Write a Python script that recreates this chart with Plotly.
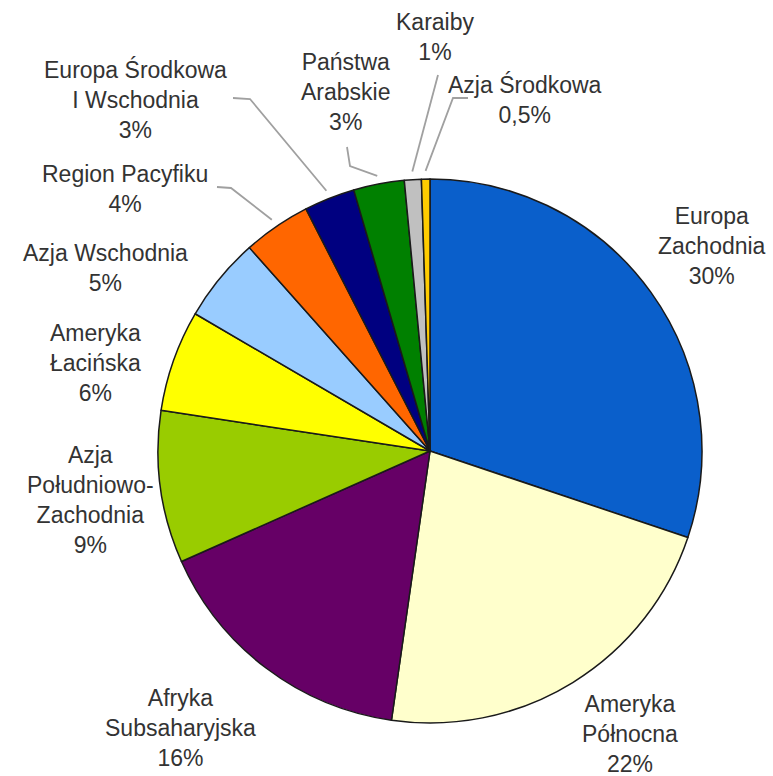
import math
import plotly.graph_objects as go

# ---- data ----
regions = ["Europa Zachodnia", "Ameryka Północna", "Afryka Subsaharyjska",
           "Azja Południowo-Zachodnia", "Ameryka Łacińska", "Azja Wschodnia",
           "Region Pacyfiku", "Europa Środkowa i Wschodnia", "Państwa Arabskie",
           "Karaiby", "Azja Środkowa"]
shares = [30, 22, 16, 9, 6, 5, 4, 3, 3, 1, 0.5]
label_texts = ["Europa<br>Zachodnia<br>30%", "Ameryka<br>Północna<br>22%",
               "Afryka<br>Subsaharyjska<br>16%",
               "Azja<br>Południowo-<br>Zachodnia<br>9%", "Ameryka<br>Łacińska<br>6%",
               "Azja Wschodnia<br>5%", "Region Pacyfiku<br>4%",
               "Europa Środkowa<br>I Wschodnia<br>3%", "Państwa<br>Arabskie<br>3%",
               "Karaiby<br>1%", "Azja Środkowa<br>0,5%"]
colors = ["#0A5FCB", "#FFFFCC", "#660066", "#99CC00", "#FFFF00", "#99CCFF",
          "#FF6600", "#000080", "#008000", "#C0C0C0", "#FFCC00"]

# ---- layout geometry (pixels) ----
W, H = 773, 776
cx, cy, R = 430, 451, 272

# label block centres (pixels)
label_pos = [(712, 246), (630, 734), (180, 728), (90, 500), (95, 363),
             (105, 268), (125, 189), (135, 100), (345, 92), (435, 37), (525, 99)]
# leader line starts (pixels) for small slices: index -> list of points
leader_start = {
    6: [(217, 187), (231, 188)],
    7: [(233, 98), (250, 99)],
    8: [(347, 147), (350, 166)],
    9: [(438, 75)],
    10: [(468, 98), (453, 98)],
}

def px(x):
    return x / W

def py(y):
    return 1 - y / H

fig = go.Figure(go.Pie(
    labels=regions, values=shares, sort=False, direction="clockwise",
    rotation=0, textinfo="none", hoverinfo="label+percent",
    marker=dict(colors=colors, line=dict(color="#1a1a1a", width=1.5)),
    domain=dict(x=[px(cx - R), px(cx + R)], y=[py(cy + R), py(cy - R)]),
    showlegend=False,
))

total = sum(shares)
cum = 0
annotations = []
shapes = []
for i, v in enumerate(shares):
    mid = (cum + v / 2) / total * 2 * math.pi
    cum += v
    lx, ly = label_pos[i]
    annotations.append(dict(
        x=px(lx), y=py(ly), xref="paper", yref="paper", text=label_texts[i],
        showarrow=False, xanchor="center", yanchor="middle", align="center",
        font=dict(family="Liberation Sans, Arial, sans-serif", size=23, color="#333333"),
    ))
    if i in leader_start:
        ex = cx + R * 1.03 * math.sin(mid)
        ey = cy - R * 1.03 * math.cos(mid)
        pts = leader_start[i] + [(ex, ey)]
        path = "M " + " L ".join(f"{px(x):.5f},{py(y):.5f}" for x, y in pts)
        shapes.append(dict(type="path", path=path, xref="paper", yref="paper",
                           line=dict(color="#a0a0a0", width=1.8)))

fig.update_layout(
    width=W, height=H, margin=dict(l=0, r=0, t=0, b=0),
    paper_bgcolor="white", plot_bgcolor="white",
    annotations=annotations, shapes=shapes,
)

fig.write_html("out.html", config={"displayModeBar": False},
               post_script="document.body.style.margin='0';document.body.style.overflow='hidden';")
